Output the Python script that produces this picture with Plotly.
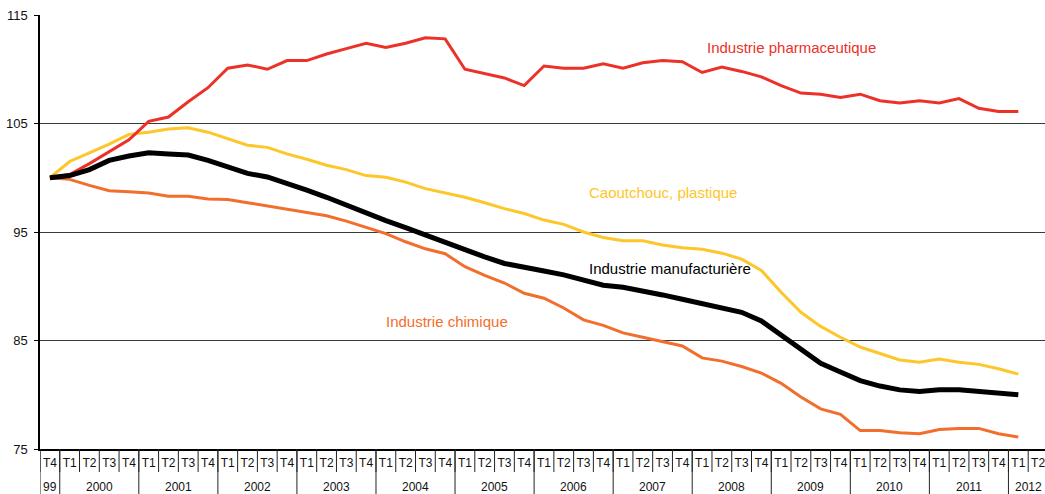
import plotly.graph_objects as go

# ---- data ----
quarters = ["T4"] + ["T1", "T2", "T3", "T4"] * 12 + ["T1", "T2"]
years = ["99"] + [str(y) for y in range(2000, 2012) for _ in range(4)] + ["2012", "2012"]

pharma = [100.0,
          100.3, 101.3, 102.4, 103.5,
          105.2, 105.6, 107.0, 108.3,
          110.1, 110.4, 110.0, 110.8,
          110.8, 111.4, 111.9, 112.4,
          112.0, 112.4, 112.9, 112.8,
          110.0, 109.6, 109.2, 108.5,
          110.3, 110.1, 110.1, 110.5,
          110.1, 110.6, 110.8, 110.7,
          109.7, 110.2, 109.8, 109.3,
          108.5, 107.8, 107.7, 107.4,
          107.7, 107.1, 106.9, 107.1,
          106.9, 107.3, 106.4, 106.1,
          106.1, None]

caoutchouc = [100.0,
              101.5, 102.3, 103.1, 104.0,
              104.2, 104.5, 104.6, 104.2,
              103.6, 103.0, 102.8, 102.2,
              101.7, 101.15, 100.75, 100.2,
              100.05, 99.6, 99.0, 98.6,
              98.2, 97.7, 97.15, 96.7,
              96.1, 95.7, 95.0, 94.5,
              94.2, 94.2, 93.8, 93.55,
              93.4, 93.05, 92.5, 91.45,
              89.45, 87.6, 86.3, 85.3,
              84.4, 83.8, 83.2, 83.0,
              83.3, 83.0, 82.8, 82.4,
              81.9, None]

manufacturiere = [100.0,
                  100.2, 100.75, 101.6, 102.0,
                  102.3, 102.2, 102.1, 101.6,
                  101.05, 100.4, 100.07, 99.4,
                  98.85, 98.2, 97.45, 96.7,
                  96.05, 95.4, 94.7, 94.0,
                  93.3, 92.7, 92.1, 91.7,
                  91.4, 91.05, 90.6, 90.1,
                  89.9, 89.6, 89.2, 88.8,
                  88.4, 87.9, 87.6, 86.8,
                  85.5, 84.2, 82.9, 82.1,
                  81.3, 80.8, 80.45, 80.3,
                  80.45, 80.45, 80.3, 80.15,
                  80.0, None]

chimique = [100.0,
            99.85, 99.3, 98.8, 98.7,
            98.6, 98.3, 98.3, 98.05,
            98.0, 97.7, 97.4, 97.1,
            96.8, 96.5, 96.0, 95.4,
            94.85, 94.1, 93.45, 93.0,
            91.8, 91.0, 90.3, 89.35,
            88.9, 88.0, 86.9, 86.4,
            85.7, 85.3, 84.9, 84.5,
            83.4, 83.1, 82.6, 82.0,
            81.05, 79.8, 78.7, 78.2,
            76.7, 76.7, 76.5, 76.4,
            76.8, 76.9, 76.9, 76.4,
            76.1, None]

y_ticks = [75, 85, 95, 105, 115]

# ---- styles ----
RED = "#EC3128"
YELLOW = "#FDC62A"
ORANGE = "#F26E2C"
BLACK = "#000000"
FONT = "Liberation Sans, Arial, Helvetica, sans-serif"

cats = [f"{q} {y}" for q, y in zip(quarters, years)]
n = len(cats)

fig = go.Figure()
series = [
    ("Industrie chimique", chimique, ORANGE, 3),
    ("Caoutchouc, plastique", caoutchouc, YELLOW, 3),
    ("Industrie pharmaceutique", pharma, RED, 3),
    ("Industrie manufacturière", manufacturiere, BLACK, 5),
]
for name, vals, col, w in series:
    fig.add_trace(go.Scatter(x=cats, y=vals, mode="lines", name=name,
                             line=dict(color=col, width=w), connectgaps=False,
                             showlegend=False))

# series labels
labels = [
    ("Industrie pharmaceutique", 37.5, 112.05, RED),
    ("Caoutchouc, plastique", 31.0, 98.65, YELLOW),
    ("Industrie manufacturière", 31.4, 91.64, BLACK),
    ("Industrie chimique", 20.1, 86.77, ORANGE),
]
for txt, xi, yv, col in labels:
    fig.add_annotation(x=xi, y=yv, xref="x", yref="y", text=txt, showarrow=False,
                       font=dict(family=FONT, size=15, color=col),
                       xanchor="center", yanchor="middle")

# year labels
groups = []
for i, yr in enumerate(years):
    if groups and groups[-1][0] == yr:
        groups[-1][2] = i
    else:
        groups.append([yr, i, i])
for yr, a, b in groups:
    fig.add_annotation(x=(a + b) / 2, y=-0.088, xref="x", yref="paper", text=yr,
                       showarrow=False, font=dict(family=FONT, size=12, color="#111"),
                       xanchor="center", yanchor="middle")

# separators
for i in range(n):
    fig.add_shape(type="line", xref="x", yref="paper", x0=i - 0.5, x1=i - 0.5,
                  y0=0, y1=-0.053, line=dict(color="#222", width=1))
for yr, a, b in groups:
    fig.add_shape(type="line", xref="x", yref="paper", x0=a - 0.5, x1=a - 0.5,
                  y0=0, y1=-0.11, line=dict(color="#222", width=1))

fig.update_xaxes(type="category", categoryorder="array", categoryarray=cats,
                 range=[-0.5, n - 0.65], tickvals=cats, ticktext=quarters,
                 ticks="", showgrid=False, showline=True, linecolor="#000",
                 linewidth=1.5, tickfont=dict(family=FONT, size=12, color="#111"),
                 ticklabelstandoff=2, automargin=False, fixedrange=True)
fig.update_yaxes(range=[75, 115], tickvals=y_ticks, showgrid=True,
                 gridcolor="#3a3a3a", gridwidth=1.2, showline=True, linecolor="#000",
                 linewidth=1.5, ticks="outside", ticklen=4, tickcolor="#000",
                 tickfont=dict(family=FONT, size=13, color="#111"), zeroline=False,
                 ticklabelstandoff=4, automargin=False)

fig.update_layout(width=1045, height=494,
                  margin=dict(l=40, r=0, t=15, b=45),
                  plot_bgcolor="white", paper_bgcolor="white",
                  font=dict(family=FONT))

fig.write_html("out.html", config={"displayModeBar": False},
               post_script="document.body.style.margin='0';document.body.style.overflow='hidden';")
